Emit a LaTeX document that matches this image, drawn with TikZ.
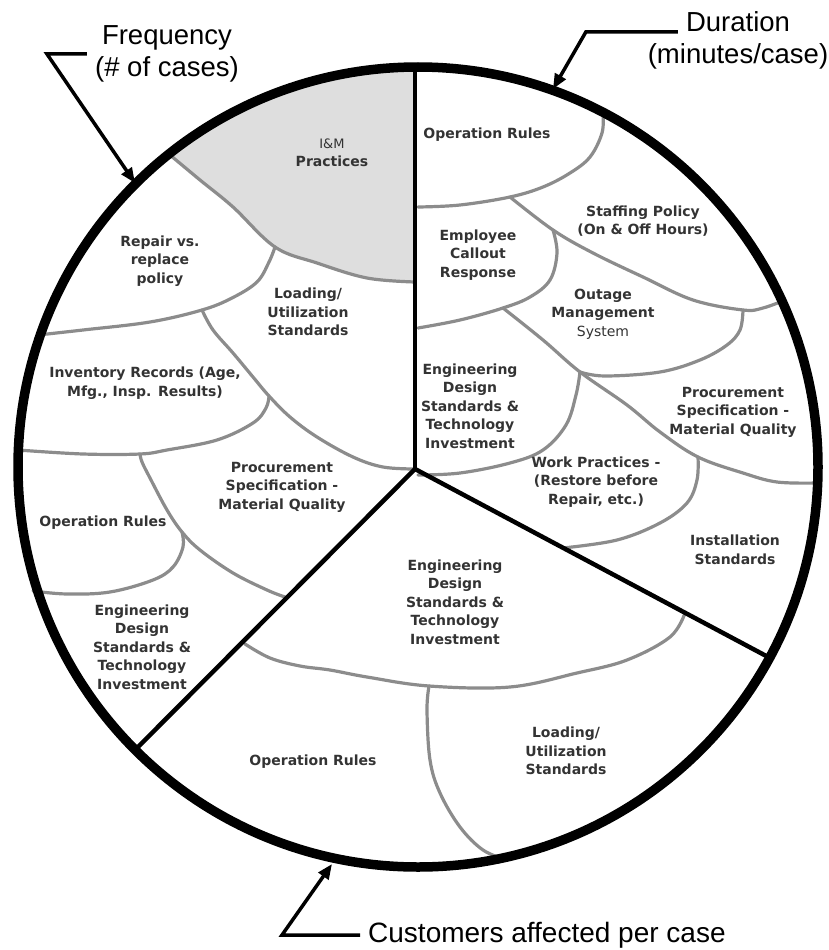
\documentclass[tikz,border=0pt]{standalone}
\usepackage{fontspec}
\setmainfont{Liberation Sans}
\newfontfamily\labelfamily{DejaVu Sans}
\usetikzlibrary{arrows.meta,positioning}
\definecolor{divgray}{RGB}{140,140,140}
\definecolor{shadegray}{RGB}{222,222,222}

\begin{document}
\begin{tikzpicture}[x=1pt, y=-1pt,
    lbl/.style={font=\labelfamily\bfseries\fontsize{14}{18.5}\selectfont, text=black!80, align=center, inner sep=0pt},
    axislbl/.style={font=\fontsize{27.5}{32}\selectfont, align=center, inner xsep=8pt, inner ysep=0pt},
    divider/.style={draw=divgray, line width=3.2pt, line cap=round},
    spoke/.style={line width=4.5pt, line cap=round},
    pointer/.style={line width=3.5pt, -{Triangle[length=15pt, width=12pt]}}]
    \def\rimwidth{9.5pt}
    \def\tens{0.6}
    \useasboundingbox (0,0) rectangle (828,950);
    %--------------------
    \coordinate (ctr) at (418,467);
    \coordinate (hub) at (415,469);
    \coordinate (top) at (415,67);
    \coordinate (sw) at (135,750);
    \coordinate (se) at (770,658);

    % junctions of the gray dividers
    \coordinate (jA) at (275,247);
    \coordinate (jB) at (202,310);
    \coordinate (jC) at (269,396);
    \coordinate (jD) at (140,454);
    \coordinate (jE) at (182,532);
    \coordinate (jF) at (510,197);
    \coordinate (jG) at (553,230);
    \coordinate (jH) at (503,308);
    \coordinate (jI) at (580,372);
    \coordinate (jJ) at (743,310);
    \coordinate (jK) at (698,457);
    \coordinate (jL) at (429,686);

    % shaded sector
    \begin{scope}
        \clip (ctr) circle[radius=400pt];
        \fill[shadegray] plot[smooth, tension=\tens] coordinates {(170,155) (200,180) (233,207) (jA) (317,263) (367,278) (415,282)}
            -- (415,0) -- (140,0) -- (140,125) -- cycle;
    \end{scope}

    %--------------------
    % left half
    \draw[divider] plot[smooth, tension=\tens] coordinates {(170,155) (200,180) (233,207) (jA) (317,263) (367,278) (415,282)};
    \draw[divider] plot[smooth, tension=\tens] coordinates {(jA) (269,262) (257,282) (232,298) (jB) (150,322) (83,330) (38,335)};
    \draw[divider] plot[smooth, tension=\tens] coordinates {(jB) (213,330) (233,353) (253,377) (jC) (290,417) (317,437) (353,457) (383,467) (hub)};
    \draw[divider] plot[smooth, tension=\tens] coordinates {(jC) (266,408) (253,423) (217,440) (167,450) (jD) (83,454) (18,450)};
    \draw[divider] plot[smooth, tension=\tens] coordinates {(jD) (142,462) (150,478) (167,510) (jE) (200,550) (233,573) (267,590) (285,597)};
    \draw[divider] plot[smooth, tension=\tens] coordinates {(jE) (183,547) (173,567) (153,580) (110,592) (67,594) (33,591)};

    % right half
    \draw[divider] plot[smooth, tension=\tens] coordinates {(603,113) (602,133) (590,157) (570,173) (543,187) (jF) (460,205) (418,207)};
    \draw[divider] plot[smooth, tension=\tens] coordinates {(jF) (jG) (593,253) (643,277) (693,300) (jJ) (763,308) (785,300)};
    \draw[divider] plot[smooth, tension=\tens] coordinates {(jG) (557,253) (550,280) (530,297) (jH) (460,320) (418,328)};
    \draw[divider] plot[smooth, tension=\tens] coordinates {(jH) (543,340) (jI) (627,405) (660,432) (jK) (743,473) (777,482) (818,483)};
    \draw[divider] plot[smooth, tension=\tens] coordinates {(jI) (605,376) (660,372) (700,360) (727,345) (740,330) (jJ)};
    \draw[divider] plot[smooth, tension=\tens] coordinates {(jI) (576,395) (566,425) (543,450) (510,463) (460,473) (418,475)};
    \draw[divider] plot[smooth, tension=\tens] coordinates {(jK) (697,480) (687,503) (660,523) (617,540) (563,548)};

    % bottom
    \draw[divider] plot[smooth, tension=\tens] coordinates {(685,613) (670,637) (627,660) (577,673) (510,687) (jL) (367,677) (330,670) (300,666) (270,658) (245,644)};
    \draw[divider] plot[smooth, tension=\tens] coordinates {(jL) (427,710) (430,760) (440,793) (460,827) (483,850) (507,860)};

    %--------------------
    \draw[spoke] (hub) -- (top);
    \draw[spoke] (hub) -- (sw);
    \draw[spoke] (hub) -- (se);
    \draw[line width=\rimwidth] (ctr) circle[radius=400pt];

    %--------------------
    \node[lbl] (im) at (332,153) {{\mdseries\fontsize{13}{18.5}\selectfont I\&M}\\Practices};
    \node[lbl] (repair) at (160,261) {Repair vs.\\replace\\policy};
    \node[lbl] (loadtop) at (308,312) {Loading/\\Utilization\\Standards};
    \node[lbl] (inventory) at (145,383) {Inventory Records (Age,\\Mfg., Insp. Results)};
    \node[lbl] (procleft) at (282,487) {Procurement\\Specification -\\Material Quality};
    \node[lbl] (oprleft) at (103,523) {Operation Rules};
    \node[lbl] (engleft) at (142,647) {Engineering\\Design\\Standards \&\\Technology\\Investment};
    \node[lbl] (oprbottom) at (313,762) {Operation Rules};

    \node[lbl] (oprtop) at (487,135) {Operation Rules};
    \node[lbl] (staffing) at (643,221) {Staffing Policy\\(On \& Off Hours)};
    \node[lbl] (callout) at (478,255) {Employee\\Callout\\Response};
    \node[lbl] (outage) at (603,314) {Outage\\Management\\{\mdseries System}};
    \node[lbl] (engright) at (470,406) {Engineering\\Design\\Standards \&\\Technology\\Investment};
    \node[lbl] (procright) at (733,412) {Procurement\\Specification -\\Material Quality};
    \node[lbl] (work) at (596,482) {Work Practices -\\(Restore before\\Repair, etc.)};
    \node[lbl] (install) at (735,550) {Installation\\Standards};
    \node[lbl] (engmid) at (455,602) {Engineering\\Design\\Standards \&\\Technology\\Investment};
    \node[lbl] (loadbottom) at (566,751) {Loading/\\Utilization\\Standards};

    %--------------------
    \node[axislbl] (freq) at (167,54) {Frequency\\(\# of cases)};
    \coordinate (freqtip) at (135,183);
    \draw[pointer] (freq.west) -- ++(-40,0) -- (freqtip);

    \node[axislbl, anchor=base] (dur) at (738,32) {Duration};
    \node[axislbl, below=11pt of dur] (durunit) {(minutes/case)};
    \coordinate (durtip) at (553,89);
    \draw[pointer] (dur.base west) -- ++(-92,0) -- (durtip);

    \node[axislbl, anchor=west, font=\fontsize{28}{32}\selectfont] (cust) at (360,935) {Customers affected per case};
    \coordinate (custtip) at (332,864);
    \draw[pointer] (cust.west) -- ++(-78,0) -- (custtip);
\end{tikzpicture}
\end{document}
